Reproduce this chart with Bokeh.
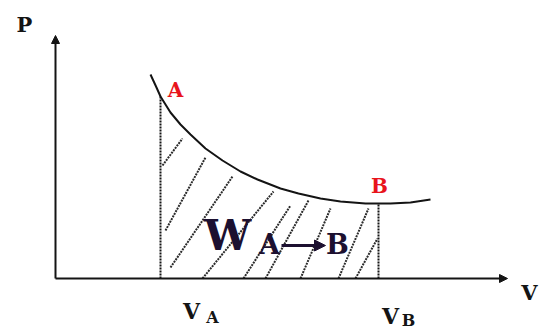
from bokeh.plotting import figure
from bokeh.models import Range1d, Arrow, NormalHead
from bokeh.core.properties import value
from bokeh.embed import file_html
from bokeh.resources import INLINE

# Isothermal-style P–V curve (schematic units: V to the right, P upward)
curve_v = [150, 156, 160, 170, 180, 190, 205, 222, 240, 257, 280, 298, 320, 340, 365, 378, 390, 410, 430]
curve_p = [255, 242, 233, 217, 205, 195, 181, 169, 158, 150, 141, 136, 131, 128, 126, 126, 126, 127, 130]

# States A and B on the curve
v_a = 160
v_b = 378
p_a = curve_p[curve_v.index(v_a)]
p_b = curve_p[curve_v.index(v_b)]

# Origin and axis extents
origin_v, origin_p = 55, 51
v_axis_end = 507
p_axis_end = 294

# Hatch strokes filling the work area under the curve
hatch_v0 = [162, 165, 170, 202, 243, 265, 300, 338, 355]
hatch_p0 = [164, 99, 62, 51, 51, 51, 51, 51, 51]
hatch_v1 = [182, 205, 232, 273, 290, 308, 330, 368, 377]
hatch_p1 = [191, 172, 153, 138, 124, 129, 121, 121, 91]

INK = "#141414"
RED = "#e8141c"
DARK = "#1c1030"
SERIF = value("DejaVu Serif")

p = figure(width=540, height=329,
           x_range=Range1d(0, 540), y_range=Range1d(0, 329),
           x_axis_type=None, y_axis_type=None,
           output_backend="svg", toolbar_location=None, min_border=0)
p.grid.visible = False
p.outline_line_color = None
p.background_fill_color = "white"
p.border_fill_color = "white"

# Hatching
p.segment(x0=hatch_v0, y0=hatch_p0, x1=hatch_v1, y1=hatch_p1,
          line_color="#2a2a2a", line_width=2, line_dash="2 1")

# Drop lines at V_A and V_B
p.segment(x0=[v_a, v_b], y0=[origin_p, origin_p], x1=[v_a, v_b], y1=[p_a, p_b],
          line_color=INK, line_width=2, line_dash="2 1")

# The curve
p.line(curve_v, curve_p, line_color=INK, line_width=2)

# Axes with arrowheads
p.add_layout(Arrow(end=NormalHead(size=8, fill_color=INK, line_color=INK),
                   x_start=origin_v, y_start=origin_p, x_end=v_axis_end, y_end=origin_p,
                   line_color=INK, line_width=2))
p.add_layout(Arrow(end=NormalHead(size=8, fill_color=INK, line_color=INK),
                   x_start=origin_v, y_start=origin_p, x_end=origin_v, y_end=p_axis_end,
                   line_color=INK, line_width=2))

# Axis names
p.text(x=[24, 529], y=[305, 37], text=["P", "V"], text_font=SERIF,
       text_font_style="bold", text_font_size="21px", text_color=INK,
       text_align="center", text_baseline="alphabetic")

# Point labels
p.text(x=[175, 379], y=[240, 144], text=["A", "B"], text_font=SERIF,
       text_font_style="bold", text_font_size="20px", text_color=RED,
       text_align="center", text_baseline="alphabetic")

# Volume tick labels V_A, V_B
p.text(x=[191, 390], y=[19, 14], text=["V", "V"], text_font=SERIF,
       text_font_style="bold", text_font_size="22px", text_color=INK,
       text_align="center", text_baseline="alphabetic")
p.text(x=[212, 408], y=[12, 9], text=["A", "B"], text_font=SERIF,
       text_font_style="bold", text_font_size="16px", text_color=INK,
       text_align="center", text_baseline="alphabetic")

# Work label W_{A->B}
p.text(x=[227], y=[94], text=["W"], text_font=SERIF,
       text_font_style="bold", text_font_size="42px", text_color=DARK,
       text_align="center", text_baseline="alphabetic")
p.text(x=[269, 337], y=[85, 85], text=["A", "B"], text_font=SERIF,
       text_font_style="bold", text_font_size="27px", text_color=DARK,
       text_align="center", text_baseline="alphabetic")
p.add_layout(Arrow(end=NormalHead(size=11, fill_color=DARK, line_color=DARK),
                   x_start=281, y_start=84, x_end=325, y_end=84,
                   line_color=DARK, line_width=3))

open("out.html", "w").write(file_html(p, INLINE))
